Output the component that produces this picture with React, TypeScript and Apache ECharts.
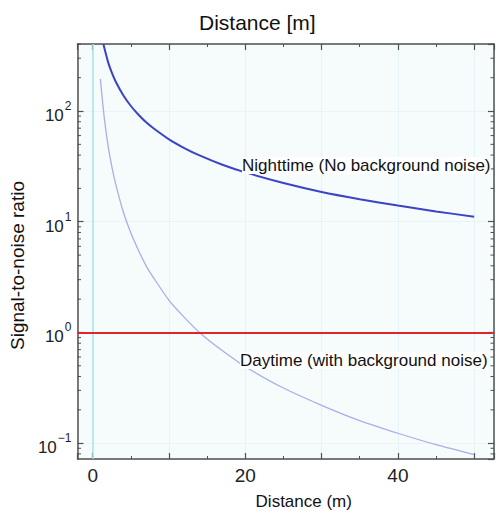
import React, { useEffect, useRef } from 'react';
import * as echarts from 'echarts';

const FONT = '"Liberation Sans", Arial, Helvetica, sans-serif';

const chartTitle = 'Distance [m]';
const xAxisName = 'Distance (m)';
const yAxisName = 'Signal-to-noise ratio';
const nightLabel = 'Nighttime (No background noise)';
const dayLabel = 'Daytime (with background noise)';

const xTickLabels = [0, 20, 40];
const yTickExponents = [-1, 0, 1, 2];
const thresholdSnr = 1;

const nightDistance = [1.4, 2, 2.5, 3, 4, 5, 6, 7, 8, 10, 12, 14, 17, 20, 25, 30, 35, 40, 45, 50];
const nightSnr = [400, 278, 222, 185, 139, 111, 92.5, 79, 69.5, 55.5, 46.3, 39.7, 32.7, 27.9, 22.4, 18.6, 16, 14, 12.4, 11.1];

const dayDistance = [1, 1.5, 2, 2.5, 3, 4, 5, 6, 7, 8, 10, 12, 14, 16, 18, 20, 25, 30, 35, 40, 45, 50];
const daySnr = [195, 88, 49, 31.5, 22, 12.3, 7.9, 5.5, 4.0, 3.1, 1.95, 1.37, 1.0, 0.77, 0.61, 0.49, 0.315, 0.22, 0.16, 0.123, 0.097, 0.079];

const X_MIN = -2;
const X_MAX = 52.6;
const Y_MIN = 0.072;
const Y_MAX = 403;

const frameColor = '#505050';

// minor tick values of the log axis (2..9 times each decade)
const minorTickValues: number[] = [];
for (let k = -2; k <= 2; k++) {
  for (let m = 2; m <= 9; m++) {
    const v = m * Math.pow(10, k);
    if (v > Y_MIN && v < Y_MAX) minorTickValues.push(v);
  }
}

function yLabel(v: number): string {
  const l = Math.log10(v);
  const e = Math.round(l);
  if (Math.abs(l - e) > 1e-6 || !yTickExponents.includes(e)) return '';
  const sup = e < 0 ? '\u2212' + String(-e) : String(e);
  return `{b|10}{s|${sup}}`;
}

export default function App() {
  const ref = useRef<HTMLDivElement>(null);
  useEffect(() => {
    document.body.style.margin = '0';
    if (!ref.current) return;
    const chart = echarts.init(ref.current, null, { renderer: 'svg' });

    const xBase = {
      type: 'value' as const,
      min: X_MIN,
      max: X_MAX,
      splitNumber: 5,
      axisLine: { show: true, onZero: false, lineStyle: { color: frameColor, width: 1.5 } },
      axisTick: { show: true, inside: true, length: 6, lineStyle: { color: frameColor, width: 1.2 } },
      minorTick: { show: true, splitNumber: 2, length: 3, lineStyle: { color: frameColor, width: 1 } },
    };
    const yBase = {
      type: 'log' as const,
      logBase: 10,
      min: Y_MIN,
      max: Y_MAX,
      axisLine: { show: true, onZero: false, lineStyle: { color: frameColor, width: 1.5 } },
      axisTick: { show: true, inside: true, length: 6, lineStyle: { color: frameColor, width: 1.2 } },
      minorTick: { show: false },
    };

    chart.setOption({
      animation: false,
      backgroundColor: '#ffffff',
      title: {
        text: chartTitle,
        left: 199,
        top: 12,
        padding: 0,
        textStyle: { fontFamily: FONT, fontSize: 21, fontWeight: 'normal', color: '#111' },
      },
      grid: {
        left: 76,
        right: 2,
        top: 44,
        bottom: 50,
        show: true,
        backgroundColor: '#f6fbfc',
        borderWidth: 0,
      },
      xAxis: [
        {
          ...xBase,
          position: 'bottom',
          name: xAxisName,
          nameLocation: 'middle',
          nameGap: 34,
          nameTextStyle: { fontFamily: FONT, fontSize: 17, color: '#111', padding: [0, 0, 0, 36] },
          axisLabel: {
            show: true,
            margin: 7,
            fontFamily: FONT,
            fontSize: 19,
            color: '#222',
            showMinLabel: false,
            showMaxLabel: false,
            formatter: (v: number) => (xTickLabels.includes(v) ? String(v) : ''),
          },
          splitLine: { show: true, lineStyle: { color: '#e4f3f6', width: 1 } },
        },
        {
          ...xBase,
          position: 'top',
          axisLabel: { show: false },
          splitLine: { show: false },
        },
      ],
      yAxis: [
        {
          ...yBase,
          position: 'left',
          name: yAxisName,
          nameLocation: 'middle',
          nameGap: 40,
          nameTextStyle: { fontFamily: FONT, fontSize: 19, color: '#111', padding: [0, 28, 0, 0] },
          axisLabel: {
            show: true,
            margin: 6,
            showMinLabel: false,
            showMaxLabel: false,
            formatter: yLabel,
            rich: {
              b: { fontFamily: FONT, fontSize: 17, color: '#222', lineHeight: 26, verticalAlign: 'bottom' },
              s: { fontFamily: FONT, fontSize: 12, color: '#222', verticalAlign: 'top', padding: [2, 0, 0, 1] },
            },
          },
          splitLine: { show: true, lineStyle: { color: '#e8f5f7', width: 1 } },
        },
        {
          ...yBase,
          position: 'right',
          axisLabel: { show: false },
          splitLine: { show: false },
        },
      ],
      graphic: [
        {
          type: 'text',
          left: 242,
          top: 157,
          z: 100,
          style: {
            text: nightLabel,
            fontFamily: FONT,
            fontSize: 17,
            fill: '#111',
            backgroundColor: '#ffffff',
          },
        },
        {
          type: 'text',
          left: 240,
          top: 352,
          z: 100,
          style: {
            text: dayLabel,
            fontFamily: FONT,
            fontSize: 17,
            fill: '#111',
            backgroundColor: '#ffffff',
          },
        },
      ],
      series: [
        {
          name: 'Nighttime',
          type: 'line',
          xAxisIndex: 0,
          yAxisIndex: 0,
          data: nightDistance.map((d, i) => [d, nightSnr[i]]),
          showSymbol: false,
          smooth: 0.25,
          clip: true,
          lineStyle: { color: '#3a44c4', width: 2 },
          z: 3,
        },
        {
          name: 'Daytime',
          type: 'line',
          xAxisIndex: 0,
          yAxisIndex: 0,
          data: dayDistance.map((d, i) => [d, daySnr[i]]),
          showSymbol: false,
          smooth: 0.25,
          clip: true,
          lineStyle: { color: '#a9afe6', width: 1.3 },
          z: 3,
          markLine: {
            silent: true,
            symbol: 'none',
            label: { show: false },
            data: [
              { xAxis: 0, lineStyle: { color: '#a6e6ea', width: 1.5, type: 'solid' } },
              { yAxis: thresholdSnr, lineStyle: { color: '#e0242a', width: 2.2, type: 'solid' } },
            ],
          },
        },
        {
          name: 'logMinorTicks',
          type: 'custom',
          xAxisIndex: 0,
          yAxisIndex: 0,
          silent: true,
          clip: false,
          z: 10,
          data: minorTickValues.map((v) => [X_MIN, v]),
          encode: { x: 0, y: 1 },
          renderItem: (params: any, api: any) => {
            const v = api.value(1);
            const pL = api.coord([X_MIN, v]);
            const pR = api.coord([X_MAX, v]);
            const style = { stroke: frameColor, lineWidth: 1 };
            return {
              type: 'group',
              children: [
                { type: 'line', shape: { x1: pL[0], y1: pL[1], x2: pL[0] + 3.5, y2: pL[1] }, style },
                { type: 'line', shape: { x1: pR[0] - 3.5, y1: pR[1], x2: pR[0], y2: pR[1] }, style },
              ],
            };
          },
        },
      ],
    });
    return () => chart.dispose();
  }, []);
  return <div ref={ref} style={{ width: 496, height: 515 }} />;
}
